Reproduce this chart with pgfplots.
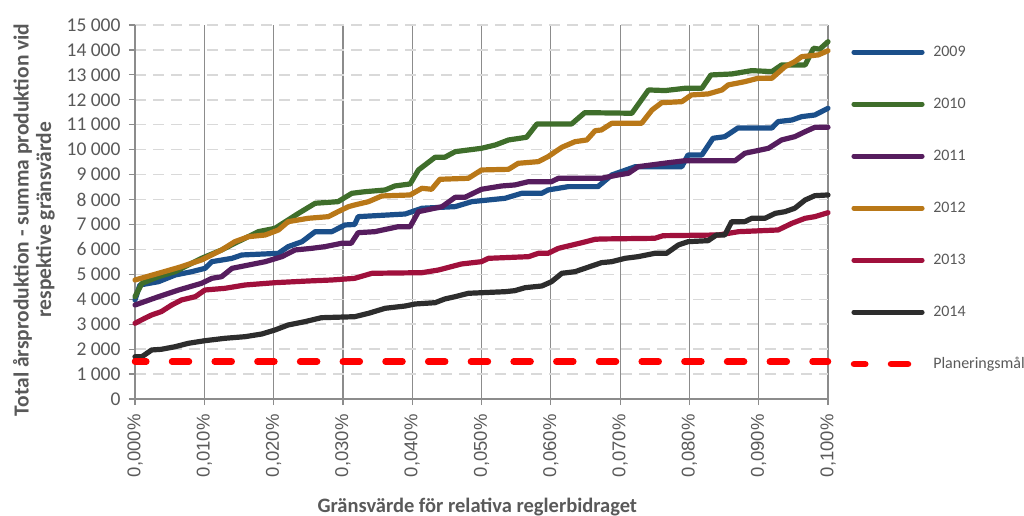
\documentclass[border=0pt]{standalone}
\usepackage{pgfplots}
\pgfplotsset{compat=1.18}
\usepackage{fontspec}
\setmainfont{Carlito}
\newfontfamily\arialfont{Liberation Sans}
\definecolor{c09}{HTML}{1B4F8A}
\definecolor{c10}{HTML}{3F6E2B}
\definecolor{c11}{HTML}{561D5E}
\definecolor{c12}{HTML}{B97818}
\definecolor{c13}{HTML}{A0103C}
\definecolor{c14}{HTML}{2D2D2D}
\definecolor{ctext}{HTML}{595959}
\definecolor{cax}{HTML}{8C8C8C}
\definecolor{cgrid}{HTML}{D9D9D9}
\begin{document}
\begin{tikzpicture}
\useasboundingbox (0,0) rectangle (1024pt,516pt);
\begin{axis}[
  at={(135pt,117pt)}, anchor=south west,
  scale only axis, width=693pt, height=374pt,
  xmin=0, xmax=0.1, ymin=0, ymax=15000,
  scaled x ticks=false, scaled y ticks=false,
  clip=false,
  axis x line*=bottom, axis y line*=left,
  axis line style={draw=cax, line width=1.2pt},
  tick align=outside, major tick length=6pt,
  tick style={draw=cax, line width=1.2pt},
  xmajorgrids, ymajorgrids,
  x grid style={draw=cax, line width=1.2pt},
  y grid style={draw=cgrid, line width=1.5pt, dash pattern=on 11pt off 7pt},
  xtick={0,0.01,0.02,0.03,0.04,0.05,0.06,0.07,0.08,0.09,0.1},
  xticklabels={{0,000\%},{0,010\%},{0,020\%},{0,030\%},{0,040\%},{0,050\%},{0,060\%},{0,070\%},{0,080\%},{0,090\%},{0,100\%}},
  ytick={0,1000,2000,3000,4000,5000,6000,7000,8000,9000,10000,11000,12000,13000,14000,15000},
  yticklabels={0,1~000,2~000,3~000,4~000,5~000,6~000,7~000,8~000,9~000,10~000,11~000,12~000,13~000,14~000,15~000},
  yticklabel style={font=\fontsize{19.5}{21}\selectfont, text=ctext},
  yticklabel shift=5pt,
  xticklabel style={rotate=90, anchor=east, font=\arialfont\fontsize{18.5}{20}\selectfont, text=ctext},
  xticklabel shift=6pt,
  xlabel={Gränsvärde för relativa reglerbidraget},
  xlabel style={at={(axis description cs:0.494,-0.289)}, anchor=center, font=\bfseries\fontsize{20.5}{23}\selectfont, text=ctext},
  ylabel={Total årsproduktion - summa produktion vid\\respektive gränsvärde},
  ylabel style={at={(axis description cs:-0.146,0.479)}, anchor=center, align=center, font=\bfseries\fontsize{21.5}{22.5}\selectfont, text=ctext},
  every axis plot/.append style={line width=5.2pt, line cap=round, line join=round},
  legend image code/.code={\draw[#1] (0pt,0pt) -- (68pt,0pt);},
  legend style={at={(axis description cs:1.0282,0.952)}, anchor=north west, draw=none, fill=none,
    font=\fontsize{16}{18}\selectfont, text=ctext, row sep=38pt, column sep=8pt,
    nodes={inner sep=0pt, text height=11pt, text depth=3pt}},
  legend cell align=left,
]
\addplot[c09] coordinates {(0,3970)(0.0007,4573)(0.0034,4706)(0.0058,4974)(0.0082,5107)(0.0101,5240)(0.0111,5508)(0.014,5642)(0.0154,5776)(0.0207,5843)(0.0221,6110)(0.0241,6310)(0.026,6711)(0.0284,6711)(0.0303,6980)(0.0317,7000)(0.0322,7313)(0.039,7420)(0.0414,7650)(0.0462,7715)(0.0486,7915)(0.0534,8050)(0.0558,8250)(0.0587,8250)(0.0596,8383)(0.0625,8517)(0.0668,8517)(0.0688,8985)(0.0722,9318)(0.0789,9318)(0.0798,9788)(0.0818,9788)(0.0834,10457)(0.0851,10520)(0.087,10870)(0.0919,10870)(0.0928,11125)(0.0948,11190)(0.0962,11325)(0.0981,11390)(0.1,11660)};
\addlegendentry{2009}
\addplot[c10] coordinates {(0,4104)(0.001,4640)(0.0034,4906)(0.0058,5107)(0.0096,5642)(0.0125,5977)(0.0144,6245)(0.0178,6711)(0.0202,6846)(0.0236,7447)(0.026,7850)(0.0293,7915)(0.0313,8250)(0.0332,8315)(0.0361,8383)(0.0375,8544)(0.0397,8624)(0.0409,9186)(0.0433,9695)(0.0447,9695)(0.0462,9920)(0.05,10055)(0.052,10188)(0.0539,10389)(0.0565,10497)(0.058,11031)(0.063,11031)(0.0649,11485)(0.0717,11460)(0.0741,12395)(0.0765,12370)(0.0794,12463)(0.0818,12463)(0.0831,12996)(0.0861,13036)(0.089,13170)(0.0919,13130)(0.0933,13397)(0.0967,13397)(0.0979,14067)(0.0988,14030)(0.1,14330)};
\addlegendentry{2010}
\addplot[c11] coordinates {(0,3770)(0.0034,4104)(0.0063,4372)(0.0096,4640)(0.0111,4840)(0.0125,4906)(0.014,5240)(0.0164,5375)(0.0188,5508)(0.0212,5709)(0.0231,5977)(0.0255,6043)(0.0274,6110)(0.0298,6245)(0.0312,6245)(0.0322,6671)(0.0346,6711)(0.038,6912)(0.0397,6912)(0.0409,7513)(0.0443,7713)(0.0462,8089)(0.0476,8089)(0.05,8411)(0.0529,8544)(0.0548,8584)(0.0568,8717)(0.0601,8717)(0.0611,8852)(0.0673,8852)(0.0697,8985)(0.0712,9053)(0.0726,9318)(0.077,9478)(0.0794,9559)(0.0866,9559)(0.088,9855)(0.0914,10055)(0.0933,10389)(0.0952,10521)(0.0967,10722)(0.0981,10898)(0.1,10898)};
\addlegendentry{2011}
\addplot[c12] coordinates {(0,4773)(0.0034,5042)(0.0067,5307)(0.0096,5576)(0.0125,5977)(0.0144,6310)(0.0164,6511)(0.0188,6578)(0.0207,6779)(0.0221,7112)(0.025,7248)(0.0279,7313)(0.0293,7513)(0.0308,7713)(0.0317,7782)(0.0337,7915)(0.0356,8143)(0.0397,8183)(0.0414,8451)(0.0428,8411)(0.044,8812)(0.0481,8852)(0.05,9186)(0.0539,9212)(0.0553,9453)(0.0582,9520)(0.0596,9720)(0.0616,10095)(0.0635,10321)(0.0652,10389)(0.0664,10762)(0.0673,10790)(0.0688,11058)(0.0731,11058)(0.0746,11590)(0.076,11885)(0.0789,11925)(0.0803,12195)(0.0827,12235)(0.0847,12395)(0.0856,12596)(0.088,12727)(0.0899,12864)(0.0919,12864)(0.0938,13330)(0.0952,13530)(0.0962,13730)(0.0986,13800)(0.1,13970)};
\addlegendentry{2012}
\addplot[c13] coordinates {(0,3036)(0.0014,3237)(0.0024,3370)(0.0038,3505)(0.0053,3770)(0.0067,3971)(0.0087,4104)(0.0101,4372)(0.013,4440)(0.0159,4573)(0.0202,4665)(0.025,4733)(0.0284,4773)(0.0317,4840)(0.0342,5042)(0.0414,5066)(0.0438,5174)(0.0471,5415)(0.05,5508)(0.051,5642)(0.0568,5709)(0.0582,5843)(0.0596,5843)(0.0611,6043)(0.0645,6270)(0.0664,6405)(0.0673,6418)(0.075,6445)(0.0762,6550)(0.0842,6578)(0.0871,6711)(0.0928,6779)(0.0948,7047)(0.0967,7248)(0.0981,7313)(0.1,7473)};
\addlegendentry{2013}
\addplot[c14] coordinates {(0,1697)(0.001,1697)(0.0024,1966)(0.0038,1993)(0.0058,2098)(0.0077,2234)(0.0101,2339)(0.013,2435)(0.0159,2500)(0.0183,2607)(0.0202,2768)(0.0221,2968)(0.0245,3101)(0.0269,3261)(0.0317,3301)(0.0337,3437)(0.0361,3638)(0.039,3730)(0.0404,3810)(0.0433,3863)(0.0447,4011)(0.0462,4104)(0.0481,4239)(0.0534,4304)(0.0548,4345)(0.0563,4465)(0.0587,4532)(0.0601,4705)(0.0616,5042)(0.0635,5107)(0.0649,5240)(0.0673,5467)(0.0688,5508)(0.0707,5642)(0.0726,5709)(0.075,5843)(0.0767,5843)(0.0784,6177)(0.0798,6310)(0.0827,6351)(0.0839,6578)(0.0851,6578)(0.0861,7112)(0.088,7112)(0.089,7248)(0.0909,7248)(0.0924,7447)(0.0938,7513)(0.0952,7650)(0.0967,7982)(0.0981,8155)(0.1,8183)};
\addlegendentry{2014}
\addplot[red, line width=6.5pt, dash pattern=on 17pt off 25.7pt, dash phase=5.7pt] coordinates {(0,1500)(0.1,1500)};
\addlegendentry{Planeringsmål}
\end{axis}
\end{tikzpicture}
\end{document}
